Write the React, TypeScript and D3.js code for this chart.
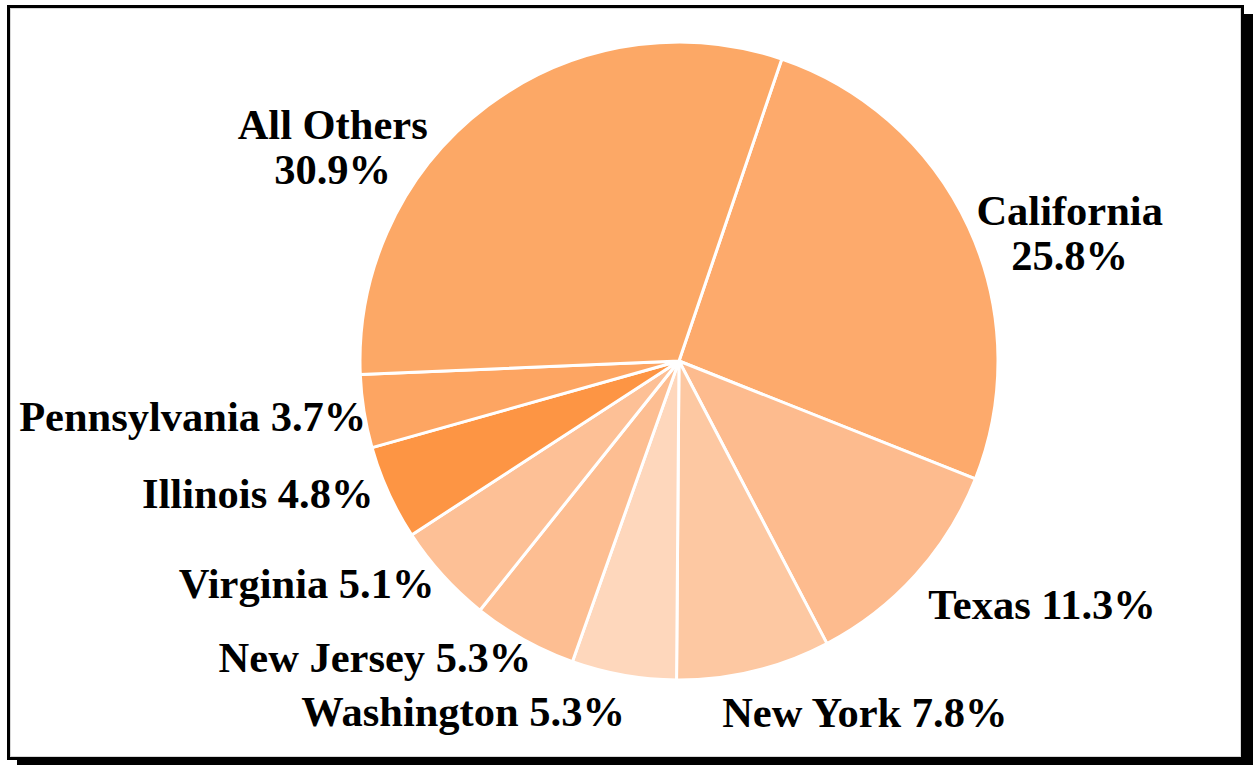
import { useEffect, useRef } from "react"
import * as d3 from "d3"

// share of total by state, in drawing order (clockwise)
const states = ["California", "Texas", "New York", "Washington", "New Jersey", "Virginia", "Illinois", "Pennsylvania", "All Others"]
const shares = [25.8, 11.3, 7.8, 5.3, 5.3, 5.1, 4.8, 3.7, 30.9]
const colors = ["#fdaa6c", "#fdbb8e", "#fdc8a2", "#fed7bc", "#fdbe92", "#fdc096", "#fd9544", "#fda562", "#fca866"]
// big slices get the value on a second line
const twoLine = ["California", "All Others"]

const App = () => {
  const svgRef = useRef<SVGSVGElement>(null)

  useEffect(() => {
    const width = 1253
    const height = 765
    const cx = 679
    const cy = 361
    const radius = 319

    const svg = d3.select(svgRef.current)
    svg.selectAll("*").remove()

    // frame with drop shadow
    svg.append("rect").attr("x", 17).attr("y", 14).attr("width", width - 17).attr("height", height - 14).attr("fill", "#000")
    svg.append("rect").attr("x", 8.5).attr("y", 6.5).attr("width", 1234).attr("height", 752)
      .attr("fill", "#fff").attr("stroke", "#000").attr("stroke-width", 3)
    svg.append("rect").attr("x", 10.5).attr("y", 8.5).attr("width", 1230).attr("height", 748)
      .attr("fill", "none").attr("stroke", "#d8d8d8").attr("stroke-width", 1)

    const data = states.map((s, i) => ({ state: s, share: shares[i], color: colors[i] }))

    const start = (18.8 * Math.PI) / 180
    const pie = d3.pie<any>().sort(null).value(d => d.share).startAngle(start).endAngle(start + 2 * Math.PI)
    const arc = d3.arc<any>().innerRadius(0).outerRadius(radius)
    const arcs = pie(data)

    const g = svg.append("g").attr("transform", `translate(${cx},${cy})`)

    g.selectAll("path")
      .data(arcs)
      .enter()
      .append("path")
      .attr("d", arc)
      .attr("fill", d => d.data.color)
      .attr("stroke", "#fff")
      .attr("stroke-width", 3)
      .attr("stroke-linejoin", "round")

    // small nudges so labels sit where the original put them
    const nudge: Record<string, [number, number]> = {
      "California": [-14, 14],
      "Texas": [-4, 15],
      "New York": [-37, 20],
      "Washington": [5, 14],
      "New Jersey": [18, -2],
      "Virginia": [8, -7],
      "Illinois": [5, -9],
      "Pennsylvania": [24, 1],
      "All Others": [-47, 59]
    }

    const labelR = radius + 22
    const lineH = 45

    arcs.forEach(a => {
      const mid = (a.startAngle + a.endAngle) / 2
      const [nx, ny] = nudge[a.data.state] || [0, 0]
      const x = labelR * Math.sin(mid) + nx
      const y = -labelR * Math.cos(mid) + ny
      const anchor = Math.sin(mid) > 0 ? "start" : "end"
      const lines = twoLine.includes(a.data.state)
        ? [a.data.state, `${a.data.share.toFixed(1)}%`]
        : [`${a.data.state} ${a.data.share.toFixed(1)}%`]
      const text = g.append("text")
        .attr("x", x)
        .attr("y", y)
        .attr("text-anchor", lines.length > 1 ? "middle" : anchor)
        .attr("font-family", "'Liberation Serif', 'Times New Roman', serif")
        .attr("font-weight", "bold")
        .attr("font-size", 42.5)
        .attr("fill", "#000")
      // two-line labels are centred on their block
      const shift = lines.length > 1 ? (anchor === "start" ? 1 : -1) * 95 : 0
      lines.forEach((l, i) => {
        text.append("tspan")
          .attr("x", x + shift)
          .attr("y", y + (i - (lines.length - 1) / 2) * lineH)
          .attr("dy", "0.35em")
          .text(l)
      })
    })
  }, [])

  return (
    <svg ref={svgRef} width={1253} height={765} style={{ position: "absolute", left: 0, top: 0, background: "#fff" }} />
  )
}

export default App
